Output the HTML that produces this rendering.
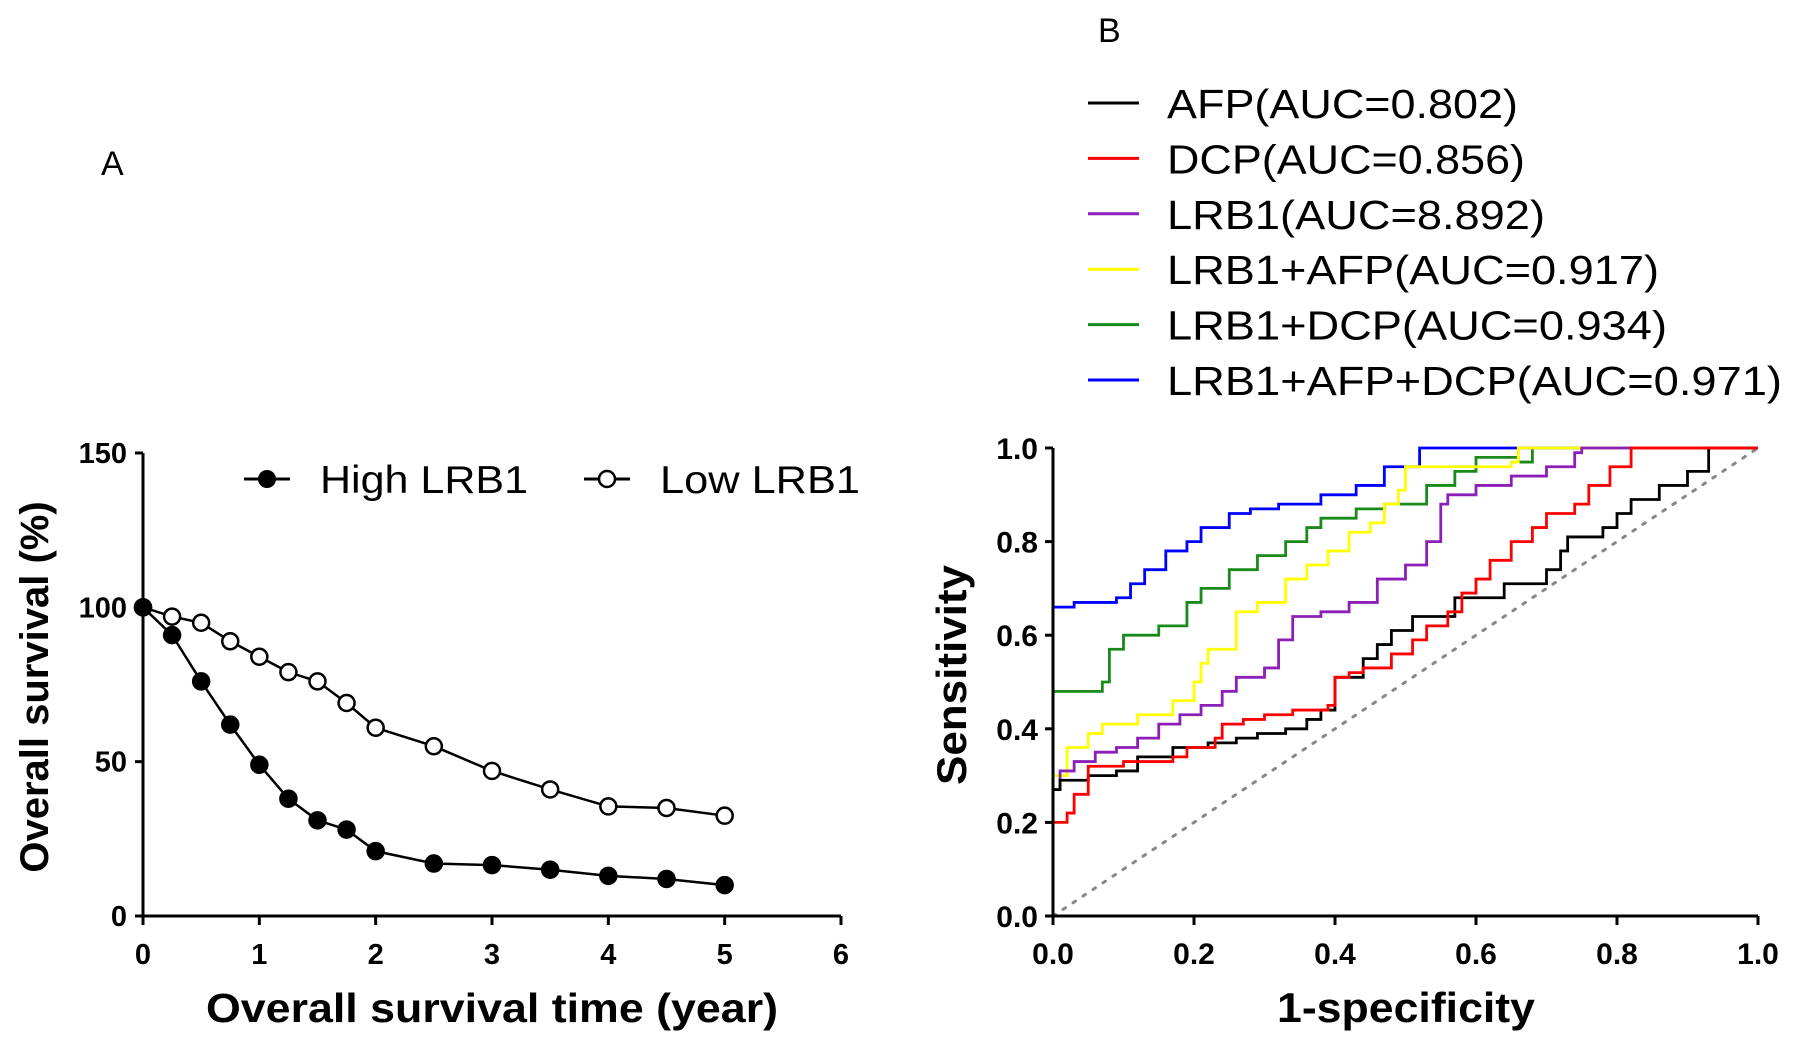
<!DOCTYPE html>
<html><head><meta charset="utf-8"><style>
html,body{margin:0;padding:0;background:#fff}
svg{display:block}
text{font-family:"Liberation Sans",Arial,sans-serif}
</style></head><body>
<svg id="c" width="1795" height="1048" viewBox="0 0 1795 1048"></svg>
<script>
const years=[0,0.25,0.5,0.75,1,1.25,1.5,1.75,2,2.5,3,3.5,4,4.5,5];
const highLRB1=[100,91,76,62,49,38,31,28,21,17,16.5,15,13,12,10];
const lowLRB1=[100,97,95,89,84,79,76,69,61,55,47,41,35.5,35,32.5];
const kmXTicks=[0,1,2,3,4,5,6];
const kmYTicks=[0,50,100,150];
const rocNames=["AFP(AUC=0.802)","DCP(AUC=0.856)","LRB1(AUC=8.892)","LRB1+AFP(AUC=0.917)","LRB1+DCP(AUC=0.934)","LRB1+AFP+DCP(AUC=0.971)"];
const rocColors=["#000000","#ff0000","#8b1fb8","#ffff00","#1a8a1a","#0000ff"];
const afpX=[0,0.01,0.05,0.09,0.12,0.17,0.22,0.26,0.29,0.33,0.36,0.38,0.4,0.44,0.46,0.48,0.51,0.57,0.64,0.7,0.72,0.73,0.78,0.8,0.82,0.86,0.9,0.93,1];
const afpY=[0.27,0.29,0.30,0.31,0.34,0.36,0.37,0.38,0.39,0.40,0.42,0.44,0.51,0.55,0.58,0.61,0.64,0.68,0.71,0.74,0.78,0.81,0.83,0.86,0.89,0.92,0.95,1.0,1.0];
const dcpX=[0,0.02,0.03,0.05,0.1,0.17,0.19,0.23,0.24,0.27,0.3,0.34,0.39,0.4,0.42,0.44,0.48,0.51,0.53,0.56,0.58,0.6,0.62,0.65,0.68,0.7,0.74,0.76,0.79,0.82,1];
const dcpY=[0.20,0.22,0.26,0.32,0.33,0.34,0.36,0.38,0.41,0.42,0.43,0.44,0.45,0.51,0.52,0.53,0.56,0.59,0.62,0.65,0.69,0.72,0.76,0.80,0.83,0.86,0.88,0.92,0.96,1.0,1.0];
const lrbX=[0,0.01,0.03,0.06,0.09,0.12,0.15,0.18,0.21,0.24,0.26,0.3,0.32,0.34,0.38,0.42,0.46,0.5,0.53,0.55,0.56,0.6,0.65,0.7,0.74,0.75,1];
const lrbY=[0.27,0.31,0.33,0.35,0.36,0.38,0.41,0.43,0.45,0.48,0.51,0.53,0.59,0.64,0.65,0.67,0.72,0.75,0.80,0.88,0.90,0.92,0.94,0.96,0.99,1.0,1.0];
const lrbAfpX=[0,0.02,0.05,0.07,0.12,0.17,0.2,0.21,0.22,0.26,0.29,0.33,0.36,0.39,0.42,0.45,0.47,0.49,0.5,0.65,0.66,1];
const lrbAfpY=[0.30,0.36,0.39,0.41,0.43,0.46,0.50,0.54,0.57,0.65,0.67,0.72,0.75,0.78,0.82,0.84,0.88,0.91,0.96,0.97,1.0,1.0];
const lrbDcpX=[0,0.07,0.08,0.1,0.15,0.19,0.21,0.25,0.29,0.33,0.36,0.38,0.43,0.47,0.53,0.57,0.6,0.66,0.68,1];
const lrbDcpY=[0.48,0.50,0.57,0.60,0.62,0.67,0.70,0.74,0.77,0.80,0.83,0.85,0.87,0.88,0.92,0.95,0.98,0.97,1.0,1.0];
const allX=[0,0.03,0.09,0.11,0.13,0.16,0.19,0.21,0.25,0.28,0.32,0.38,0.43,0.47,0.52,1];
const allY=[0.66,0.67,0.68,0.71,0.74,0.78,0.80,0.83,0.86,0.87,0.88,0.90,0.92,0.96,1.0,1.0];
const rocXTicks=[0,0.2,0.4,0.6,0.8,1.0];
const rocYTicks=[0,0.2,0.4,0.6,0.8,1.0];
const rocLegendWidths=[351,358,378,492,500,615];

const svg=document.getElementById('c');
const NS='http://www.w3.org/2000/svg';
function mk(tag,attrs,parent,txt){const e=document.createElementNS(NS,tag);for(const k in attrs)e.setAttribute(k,attrs[k]);if(txt!==undefined)e.textContent=txt;(parent||svg).appendChild(e);return e;}

// ---------- Panel A ----------
const kx=v=>143+v*(841-143)/6, ky=v=>916-v*(916-453)/150;
const gA=mk('g',{});


const lA=mk('text',{x:101,y:175,'font-size':34},gA,'A');

mk('line',{x1:143,y1:453,x2:143,y2:916,stroke:'#000','stroke-width':3},gA);
mk('line',{x1:143,y1:916,x2:841,y2:916,stroke:'#000','stroke-width':3},gA);
kmYTicks.forEach(t=>{mk('line',{x1:135,y1:ky(t),x2:143,y2:ky(t),stroke:'#000','stroke-width':3},gA);
 const e=mk('text',{x:127,y:ky(t)+10,'font-size':29,'font-weight':'bold','text-anchor':'end'},gA,t);
 });
kmXTicks.forEach(t=>{mk('line',{x1:kx(t),y1:916,x2:kx(t),y2:925,stroke:'#000','stroke-width':3},gA);
 const e=mk('text',{x:kx(t),y:964,'font-size':29,'font-weight':'bold','text-anchor':'middle'},gA,t);
 });
let e=mk('text',{x:492,y:1022,'font-size':41,'font-weight':'bold','text-anchor':'middle',textLength:572,lengthAdjust:'spacingAndGlyphs'},gA,'Overall survival time (year)');

e=mk('text',{x:0,y:0,'font-size':40,'font-weight':'bold','text-anchor':'middle',transform:'translate(48,687) rotate(-90)'},gA,'Overall survival (%)');

function kmSeries(vals,filled,name){
 const pts=years.map((y,i)=>kx(y)+','+ky(vals[i])).join(' ');
 const p=mk('polyline',{points:pts,fill:'none',stroke:'#000','stroke-width':2.5},gA);
 
 years.forEach((y,i)=>{const c=mk('circle',{cx:kx(y),cy:ky(vals[i]),r:8,fill:filled?'#000':'#fff',stroke:'#000','stroke-width':2.5},gA);
  });
}
kmSeries(lowLRB1,false,'low-lrb1');
kmSeries(highLRB1,true,'high-lrb1');
let lg=mk('g',{},gA);
mk('line',{x1:244,y1:479,x2:290,y2:479,stroke:'#000','stroke-width':3},lg);
mk('circle',{cx:267,cy:479,r:9,fill:'#000'},lg);
mk('text',{x:320,y:493,'font-size':39,textLength:208,lengthAdjust:'spacingAndGlyphs'},lg,'High LRB1');
lg=mk('g',{},gA);
mk('line',{x1:584,y1:479,x2:630,y2:479,stroke:'#000','stroke-width':3},lg);
mk('circle',{cx:607,cy:479,r:8,fill:'#fff',stroke:'#000','stroke-width':2.5},lg);
mk('text',{x:660,y:493,'font-size':39,textLength:200,lengthAdjust:'spacingAndGlyphs'},lg,'Low LRB1');

// ---------- Panel B ----------
const rx=v=>1053+v*(1758-1053), ry=v=>916-v*(916-448);
const gB=mk('g',{});


e=mk('text',{x:1098,y:42,'font-size':34},gB,'B');

const diag=mk('line',{x1:rx(0),y1:ry(0),x2:rx(1),y2:ry(1),stroke:'#888','stroke-width':3,'stroke-dasharray':'3 9','stroke-linecap':'round'},gB);

const series=[[afpX,afpY],[dcpX,dcpY],[lrbX,lrbY],[lrbAfpX,lrbAfpY],[lrbDcpX,lrbDcpY],[allX,allY]];
const order=[5,4,3,2,0,1];
order.forEach(i=>{const [xs,ys]=series[i];let d='M'+rx(xs[0])+','+ry(ys[0]);
 for(let k=1;k<xs.length;k++){d+=' H'+rx(xs[k])+' V'+ry(ys[k]);}
 const p=mk('path',{d:d,fill:'none',stroke:rocColors[i],'stroke-width':2.8},gB);
 });
mk('line',{x1:1053,y1:448,x2:1053,y2:917,stroke:'#000','stroke-width':3},gB);
mk('line',{x1:1053,y1:916,x2:1758,y2:916,stroke:'#000','stroke-width':3},gB);
rocYTicks.forEach(t=>{mk('line',{x1:1045,y1:ry(t),x2:1053,y2:ry(t),stroke:'#000','stroke-width':3},gB);
 const e=mk('text',{x:1038,y:ry(t)+11,'font-size':30,'font-weight':'bold','text-anchor':'end'},gB,t.toFixed(1));
 });
rocXTicks.forEach(t=>{mk('line',{x1:rx(t),y1:916,x2:rx(t),y2:925,stroke:'#000','stroke-width':3},gB);
 const e=mk('text',{x:rx(t),y:964,'font-size':30,'font-weight':'bold','text-anchor':'middle'},gB,t.toFixed(1));
 });
e=mk('text',{x:1406,y:1022,'font-size':42,'font-weight':'bold','text-anchor':'middle',textLength:258,lengthAdjust:'spacingAndGlyphs'},gB,'1-specificity');

e=mk('text',{x:0,y:0,'font-size':42,'font-weight':'bold','text-anchor':'middle',transform:'translate(966,675) rotate(-90)',textLength:220,lengthAdjust:'spacingAndGlyphs'},gB,'Sensitivity');

rocNames.forEach((n,i)=>{const y=103+i*55.4;const g=mk('g',{},gB);
 
 mk('line',{x1:1088,y1:y,x2:1139,y2:y,stroke:rocColors[i],'stroke-width':3},g);
 mk('text',{x:1167,y:y+15,'font-size':41,textLength:rocLegendWidths[i],lengthAdjust:'spacingAndGlyphs'},g,n);});
</script>
</body></html>
